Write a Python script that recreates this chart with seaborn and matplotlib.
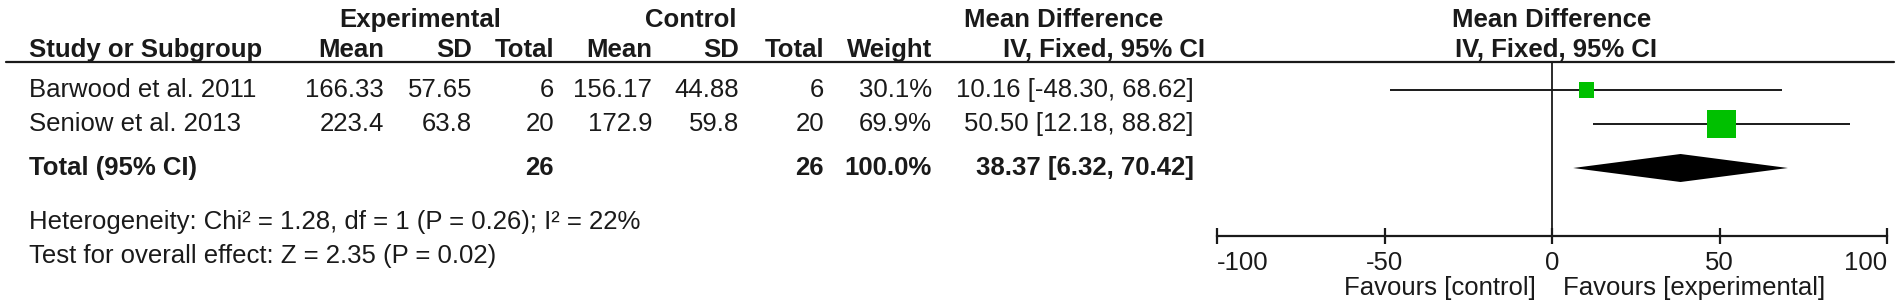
import matplotlib
matplotlib.use("Agg")
import matplotlib.pyplot as plt
import seaborn as sns
import pandas as pd

# ============================================================================
# DATA
# ============================================================================

studies = ["Barwood et al. 2011", "Seniow et al. 2013"]
exp_mean = ["166.33", "223.4"]
exp_sd = ["57.65", "63.8"]
exp_total = [6, 20]
ctl_mean = ["156.17", "172.9"]
ctl_sd = ["44.88", "59.8"]
ctl_total = [6, 20]
weights = [30.1, 69.9]
md = [10.16, 50.50]
ci_low = [-48.30, 12.18]
ci_high = [68.62, 88.82]

total_exp = 26
total_ctl = 26
total_weight = 100.0
total_md = 38.37
total_low = 6.32
total_high = 70.42

heterogeneity = "Heterogeneity: Chi² = 1.28, df = 1 (P = 0.26); I² = 22%"
overall = "Test for overall effect: Z = 2.35 (P = 0.02)"
axis_ticks = [-100, -50, 0, 50, 100]

# ============================================================================
# LAYOUT (pixel coords of the 1902x301 canvas)
# ============================================================================

W, H = 1902, 301
FS = 18.5
HEAD1_Y = 20
HEAD2_Y = 50
LINE_Y = 62
ROW_Y = [90, 124]
TOTAL_Y = 168
HET_Y = 222
TEST_Y = 256
AXIS_Y = 236
FAV_Y = 288

sns.set_theme(style="white")
plt.rcParams['font.family'] = ['Liberation Sans', 'DejaVu Sans']

fig = plt.figure(figsize=(W / 100, H / 100), dpi=100)
ax = fig.add_axes([0, 0, 1, 1])
ax.set_xlim(0, W)
ax.set_ylim(H, 0)
ax.axis('off')

GREEN = '#00c000'
INK = '#1a1a1a'

def txt(x, y, s, ha='right', bold=False):
    ax.text(x, y, s, ha=ha, va='center', fontsize=FS,
            fontweight='bold' if bold else 'normal', color=INK)

# column right edges
cols = {'em': 384, 'es': 472, 'et': 554, 'cm': 652, 'cs': 739, 'ct': 824,
        'w': 932, 'ci': 1194}

# group headers
txt(420, HEAD1_Y, "Experimental", ha='center', bold=True)
txt(691, HEAD1_Y, "Control", ha='center', bold=True)
txt(1064, HEAD1_Y, "Mean Difference", ha='center', bold=True)
txt(1552, HEAD1_Y, "Mean Difference", ha='center', bold=True)

txt(29, HEAD2_Y, "Study or Subgroup", ha='left', bold=True)
for key, lab in [('em', 'Mean'), ('es', 'SD'), ('et', 'Total'), ('cm', 'Mean'),
                 ('cs', 'SD'), ('ct', 'Total'), ('w', 'Weight')]:
    txt(cols[key], HEAD2_Y, lab, bold=True)
txt(1205, HEAD2_Y, "IV, Fixed, 95% CI", bold=True)
txt(1556, HEAD2_Y, "IV, Fixed, 95% CI", ha='center', bold=True)

ax.plot([6, 1894], [LINE_Y, LINE_Y], color=INK, lw=1.6)

for i, name in enumerate(studies):
    y = ROW_Y[i]
    txt(29, y, name, ha='left')
    txt(cols['em'], y, exp_mean[i])
    txt(cols['es'], y, exp_sd[i])
    txt(cols['et'], y, str(exp_total[i]))
    txt(cols['cm'], y, ctl_mean[i])
    txt(cols['cs'], y, ctl_sd[i])
    txt(cols['ct'], y, str(ctl_total[i]))
    txt(cols['w'], y, f"{weights[i]:.1f}%")
    txt(cols['ci'], y, f"{md[i]:.2f} [{ci_low[i]:.2f}, {ci_high[i]:.2f}]")

txt(29, TOTAL_Y, "Total (95% CI)", ha='left', bold=True)
txt(cols['et'], TOTAL_Y, str(total_exp), bold=True)
txt(cols['ct'], TOTAL_Y, str(total_ctl), bold=True)
txt(cols['w'], TOTAL_Y, f"{total_weight:.1f}%", bold=True)
txt(cols['ci'], TOTAL_Y, f"{total_md:.2f} [{total_low:.2f}, {total_high:.2f}]", bold=True)

txt(29, HET_Y, heterogeneity, ha='left')
txt(29, TEST_Y, overall, ha='left')

# ============================================================================
# FOREST PANEL
# ============================================================================

x0, x1 = 1217, 1887
fa = fig.add_axes([x0 / W, 0, (x1 - x0) / W, 1])
fa.set_xlim(-100, 100)
fa.set_ylim(H, 0)
fa.patch.set_alpha(0)
for sp in ['top', 'left', 'right']:
    fa.spines[sp].set_visible(False)
fa.spines['bottom'].set_position(('data', AXIS_Y))
fa.spines['bottom'].set_linewidth(1.6)
fa.spines['bottom'].set_color(INK)
fa.set_yticks([])
fa.set_xticks(axis_ticks)
fa.set_xticklabels([str(t) for t in axis_ticks])
fa.tick_params(axis='x', direction='inout', length=12, width=1.6,
               labelsize=FS, colors=INK, pad=5, bottom=True)
tl = fa.get_xticklabels()
tl[0].set_ha('left')
tl[-1].set_ha('right')

fa.plot([0, 0], [LINE_Y, AXIS_Y], color=INK, lw=1.3)

df = pd.DataFrame({'study': studies, 'md': md, 'lo': ci_low, 'hi': ci_high,
                   'weight': weights, 'y': ROW_Y})
fa.hlines(df['y'], df['lo'], df['hi'], color=INK, lw=1.4)
sns.scatterplot(data=df, x='md', y='y', size='weight',
                sizes={30.1: 117, 69.9: 430}, marker='s', color=GREEN,
                edgecolor='none', legend=False, ax=fa, zorder=3)
fa.set_xlabel('')
fa.set_ylabel('')

dh = 14
fa.fill([total_low, total_md, total_high, total_md],
        [TOTAL_Y, TOTAL_Y - dh, TOTAL_Y, TOTAL_Y + dh], color='black', lw=0)

fa.text(-4.8, FAV_Y, "Favours [control]", ha='right', va='center', fontsize=FS,
        color=INK)
fa.text(3.3, FAV_Y, "Favours [experimental]", ha='left', va='center', fontsize=FS,
        color=INK)

fig.savefig("out.png", dpi=100)
